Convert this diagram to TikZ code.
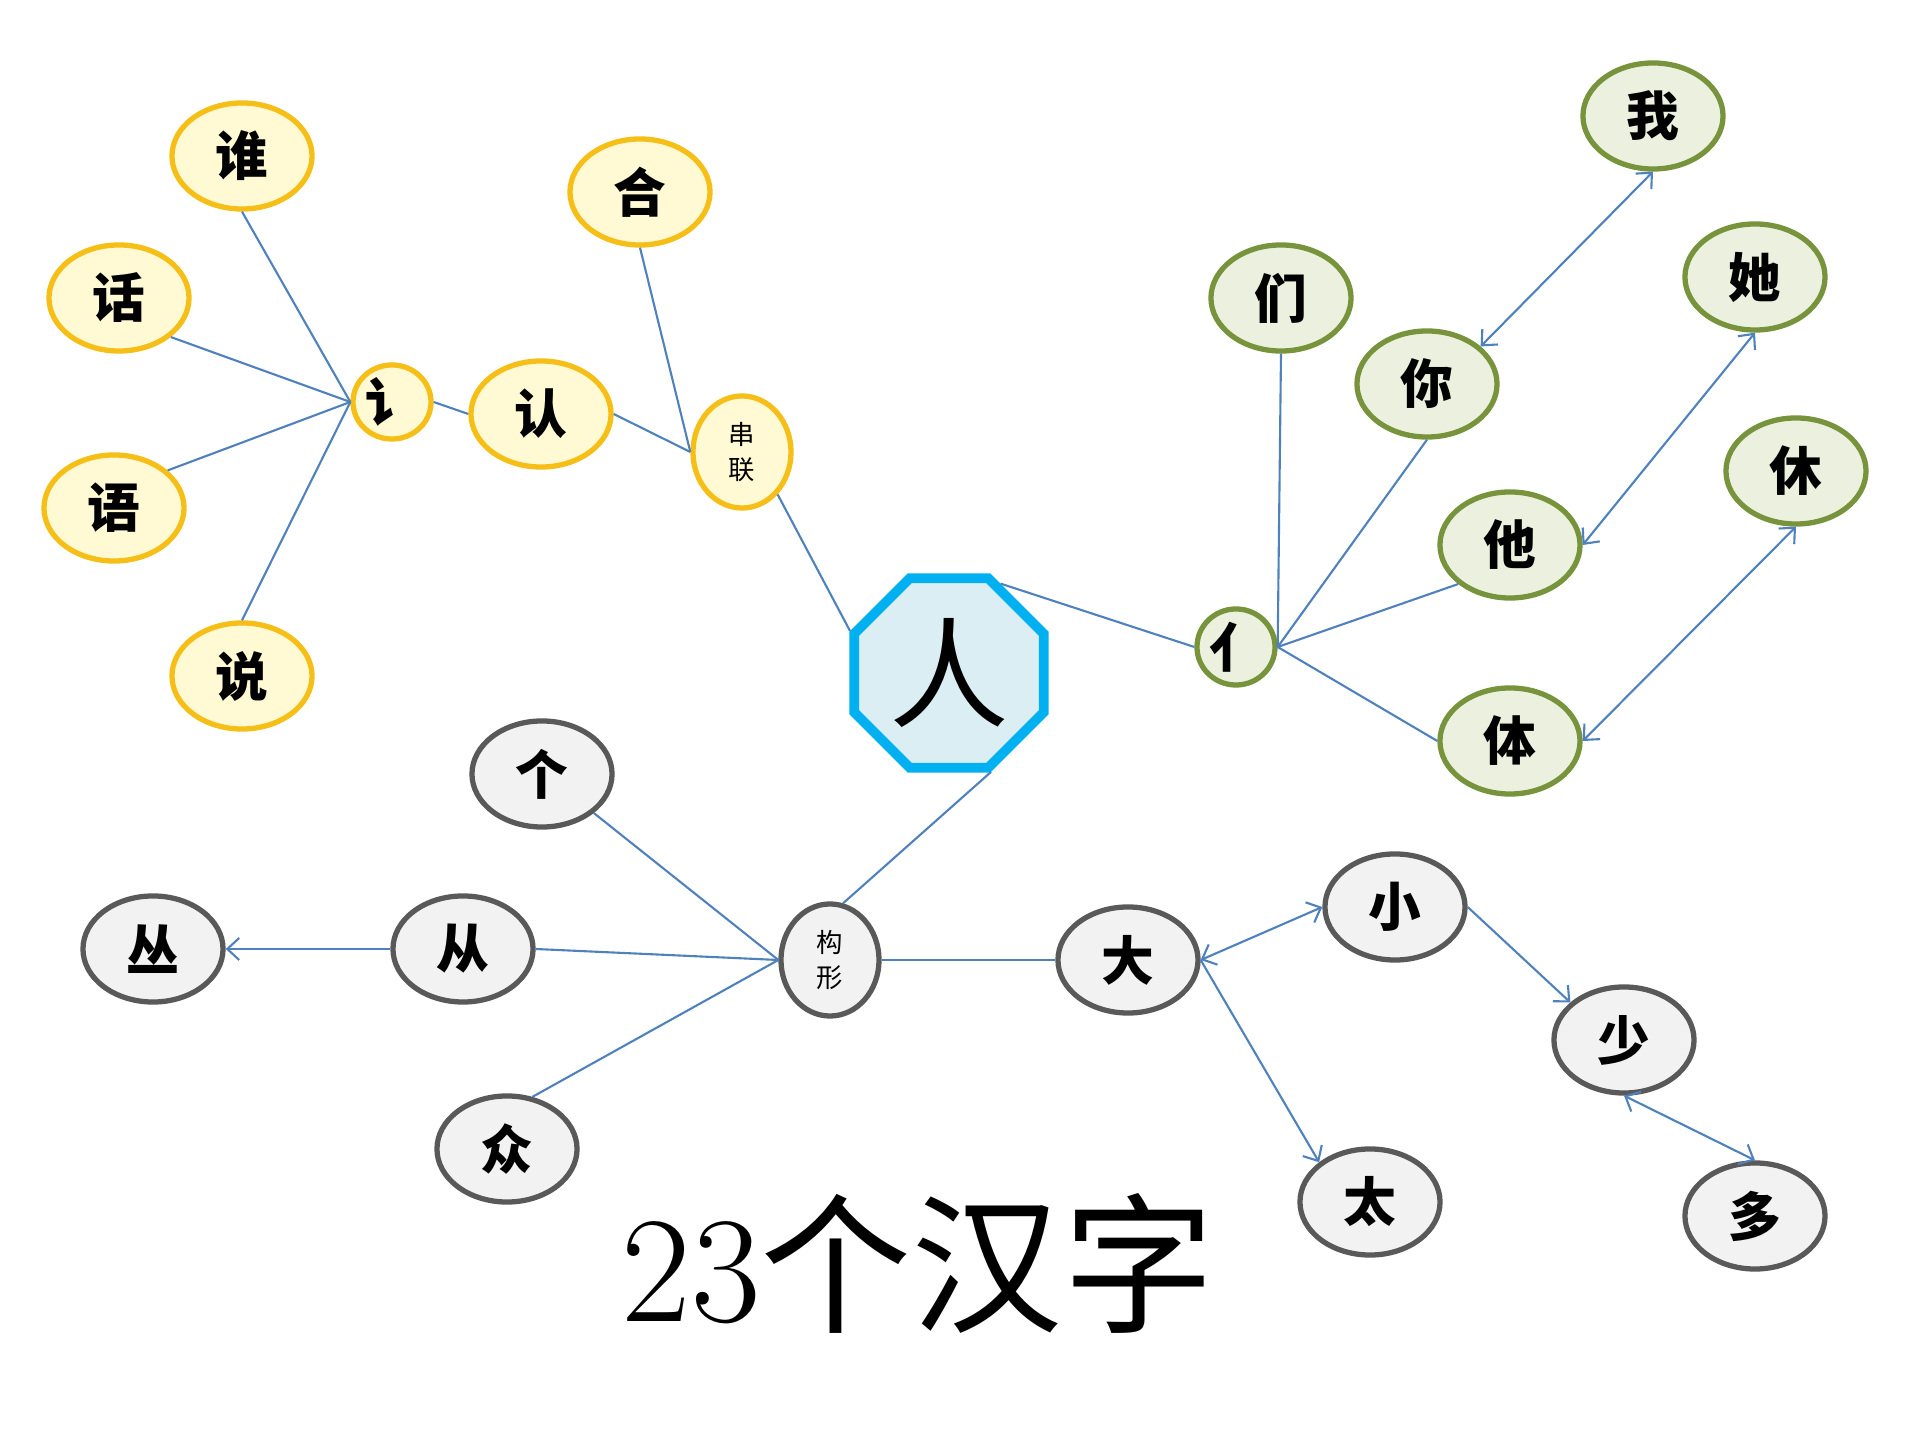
\documentclass[tikz,border=0pt]{standalone}
\usepackage{fontspec}
\newfontfamily\cjk{Noto Sans CJK SC}
\usetikzlibrary{shapes.geometric,arrows.meta}

\definecolor{goldline}{HTML}{F5BF17}
\definecolor{goldfill}{HTML}{FFF9D4}
\definecolor{greenline}{HTML}{77933C}
\definecolor{greenfill}{HTML}{EBF1DE}
\definecolor{grayline}{HTML}{595959}
\definecolor{grayfill}{HTML}{F2F2F2}
\definecolor{skyline}{HTML}{00B0F0}
\definecolor{skyfill}{HTML}{DBEEF4}
\definecolor{linkblue}{HTML}{4F81BD}

\tikzset{
  zi/.style={ellipse, line width=1.5pt, minimum width=1.4cm, minimum height=1.06cm,
    inner sep=0pt, font=\cjk\bfseries\fontsize{15}{15}\selectfont},
  xiaozi/.style={zi, minimum width=0.98cm, minimum height=1.12cm, align=center,
    font=\cjk\fontsize{7.5}{10}\selectfont},
  huang/.style={zi, draw=goldline, fill=goldfill},
  lv/.style={zi, draw=greenline, fill=greenfill},
  hui/.style={zi, draw=grayline, fill=grayfill},
  link/.style={draw=linkblue, line width=0.6pt},
  jian/.style={link, -{Straight Barb[length=1.2mm,width=2.2mm]}},
  shuang/.style={link, {Straight Barb[length=1.2mm,width=2.2mm]}-{Straight Barb[length=1.2mm,width=2.2mm]}}
}

\begin{document}
\begin{tikzpicture}[x=0.01cm, y=-0.01cm]
\useasboundingbox (0,0) rectangle (1920,1440);

% Centre
\node[regular polygon, regular polygon sides=8, minimum size=2.05cm, inner sep=0pt,
  draw=skyline, fill=skyfill, line width=2.8pt, font=\cjk\fontsize{34}{34}\selectfont] (ren) at (949,673) {人};

% Groupe jaune
\node[huang] (shui) at (242,156) {谁};
\node[huang] (hua) at (119,298) {话};
\node[huang] (yu) at (114,508) {语};
\node[huang] (shuo) at (242,676) {说};
\node[huang, minimum width=0.78cm, minimum height=0.74cm] (yan) at (392,402) {讠};
\node[huang] (renshi) at (541,414) {认};
\node[huang] (he) at (640,192) {合};
\node[huang, xiaozi] (chuanlian) at (742,452) {串\\联};

% Groupe vert
\node[lv, minimum width=0.78cm, minimum height=0.76cm] (danren) at (1236,647) {亻};
\node[lv] (men) at (1281,298) {们};
\node[lv] (ni) at (1427,384) {你};
\node[lv] (wo) at (1653,116) {我};
\node[lv] (tanv) at (1755,277) {她};
\node[lv] (xiu) at (1796,471) {休};
\node[lv] (ta) at (1510,545) {他};
\node[lv] (ti) at (1510,741) {体};

% Groupe gris
\node[hui, xiaozi] (gouxing) at (830,960) {构\\形};
\node[hui] (ge) at (542,774) {个};
\node[hui] (congcong) at (153,949) {丛};
\node[hui] (cong) at (463,949) {从};
\node[hui] (zhong) at (507,1149) {众};
\node[hui] (da) at (1128,960) {大};
\node[hui] (xiao) at (1395,907) {小};
\node[hui] (shao) at (1624,1040) {少};
\node[hui] (tai) at (1370,1202) {太};
\node[hui] (duo) at (1755,1216) {多};

% Titre
\node[font=\fontsize{43}{43}\selectfont] (title) at (918,1263) {23{\cjk 个汉字}};

% Liens jaunes
\draw[link] (shui.south) -- (yan.west);
\draw[link] (hua.-37) -- (yan.west);
\draw[link] (yu.35) -- (yan.west);
\draw[link] (shuo.north) -- (yan.west);
\draw[link] (yan.east) -- (renshi.west);
\draw[link] (renshi.east) -- (chuanlian.west);
\draw[link] (he.south) -- (chuanlian.west);
\draw[link] (chuanlian.-50) -- (ren.157);

% Liens verts
\draw[link] (ren.60) -- (danren.west);
\draw[link] (men.south) -- (danren.east);
\draw[link] (ni.south) -- (danren.east);
\draw[link] (ta.217) -- (danren.east);
\draw[link] (ti.west) -- (danren.east);
\draw[shuang] (wo.south) -- (ni.35);
\draw[shuang] (tanv.south) -- (ta.east);
\draw[shuang] (xiu.south) -- (ti.east);

% Liens gris
\draw[link] (ren.-67) -- (gouxing.77);
\draw[link] (ge.-37) -- (gouxing.west);
\draw[link] (cong.east) -- (gouxing.west);
\draw[link] (zhong.64) -- (gouxing.west);
\draw[jian] (cong.west) -- (congcong.east);
\draw[link] (gouxing.east) -- (da.west);
\draw[shuang] (da.east) -- (xiao.west);
\draw[jian] (da.east) -- (tai.142);
\draw[jian] (xiao.east) -- (shao.145);
\draw[shuang] (shao.south) -- (duo.north);

\end{tikzpicture}
\end{document}
